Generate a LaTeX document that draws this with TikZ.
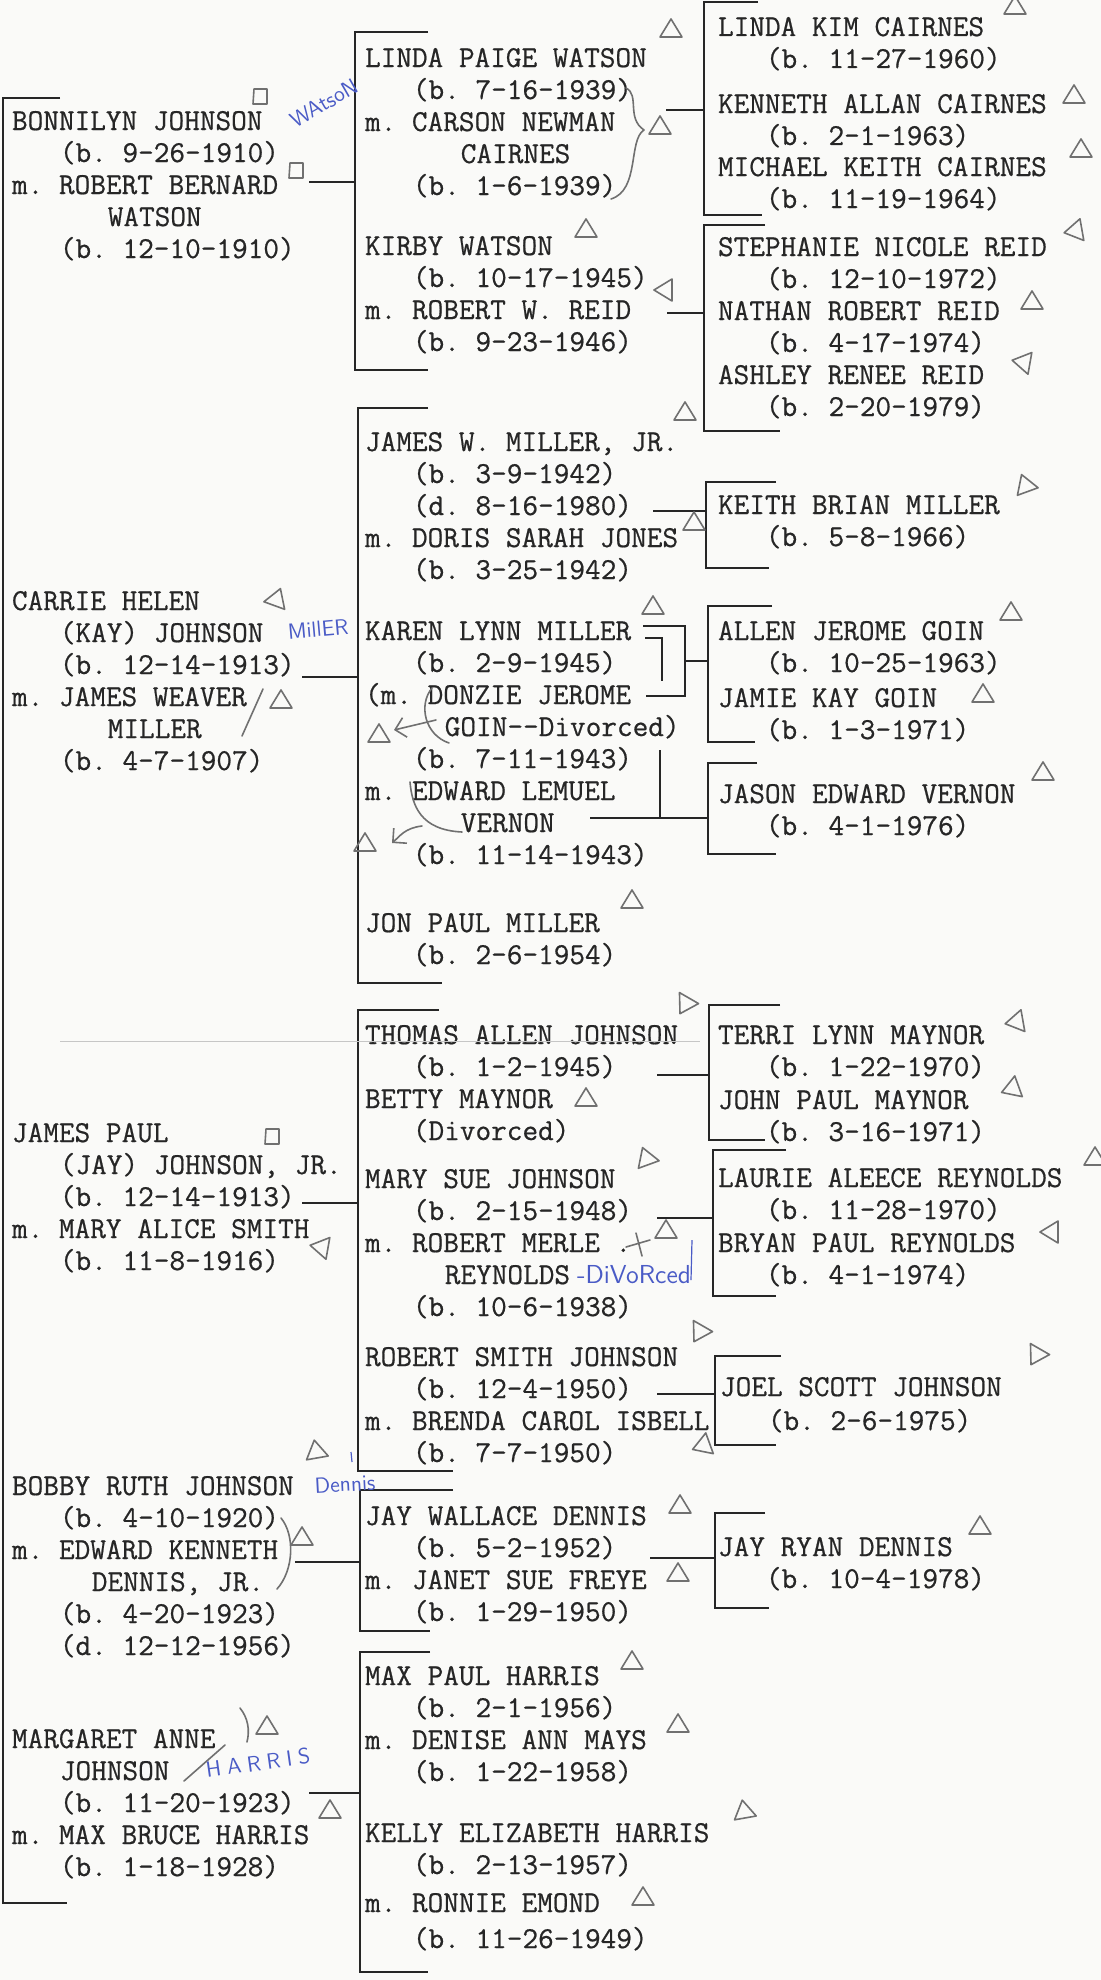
\documentclass[tikz,border=0pt]{standalone}
\usepackage{fontspec}
\usepackage{xcolor}
\usepackage{tikz}
\usetikzlibrary{arrows.meta,positioning,calc}
\newfontfamily\typefont{lmmono12-regular.otf}[FakeBold=0.6]
\definecolor{paper}{HTML}{FAFAF8}
\definecolor{typed}{HTML}{262626}
\definecolor{pencil}{HTML}{707070}
\definecolor{inkblue}{HTML}{4A5BC6}
\newcommand{\ind}[1]{\hspace*{#1\dimexpr 0.525em\relax}}
\newcommand{\sk}{\rule{0pt}{13pt}}
\newcommand{\tri}[3]{\draw[pencilmark, shift={(#1,#2)}, rotate=#3] (-11,8) -- (11,8) -- (0,-10) -- cycle;}
\newcommand{\sq}[2]{\draw[pencilmark, shift={(#1,#2)}] (-7,8) -- (-6,-7) -- (7,-7) -- (7,8) -- cycle;}

\begin{document}
\begin{tikzpicture}[x=0.5pt, y=-0.5pt, >=Stealth,
    person/.style={anchor=north west, inner sep=0pt, outer sep=0pt, align=left, text=typed,
                   font=\fontsize{15.2pt}{16pt}\typefont\frenchspacing},
    brk/.style={draw=typed, line width=1.2pt},
    link/.style={draw=typed, line width=1.2pt},
    pencilmark/.style={draw=pencil, line width=0.8pt, line join=round, line cap=round},
    handnote/.style={text=inkblue, inner sep=0pt, font=\sffamily\fontsize{11pt}{11pt}\selectfont}]
  \fill[paper] (0,0) rectangle (1101,1980);
  \useasboundingbox (0,0) rectangle (1101,1980);

  % first generation
  \node[person] (bonn) at (12,104) {\sk BONNILYN JOHNSON\\\ind{3}(b. 9-26-1910)\\m. ROBERT BERNARD\\\ind{6}WATSON\\\ind{3}(b. 12-10-1910)};
  \node[person] (carrie) at (12,584) {\sk CARRIE HELEN\\\ind{3}(KAY) JOHNSON\\\ind{3}(b. 12-14-1913)\\m. JAMES WEAVER\\\ind{6}MILLER\\\ind{3}(b. 4-7-1907)};
  \node[person] (james) at (12,1116) {\sk JAMES PAUL\\\ind{3}(JAY) JOHNSON, JR.\\\ind{3}(b. 12-14-1913)\\m. MARY ALICE SMITH\\\ind{3}(b. 11-8-1916)};
  \node[person] (bobby) at (12,1469) {\sk BOBBY RUTH JOHNSON\\\ind{3}(b. 4-10-1920)\\m. EDWARD KENNETH\\\ind{5}DENNIS, JR.\\\ind{3}(b. 4-20-1923)\\\ind{3}(d. 12-12-1956)};
  \node[person] (margaret) at (12,1722) {\sk MARGARET ANNE\\\ind{3}JOHNSON\\\ind{3}(b. 11-20-1923)\\m. MAX BRUCE HARRIS\\\ind{3}(b. 1-18-1928)};

  % second generation
  \node[person] (lindap) at (365,41) {\sk LINDA PAIGE WATSON\\\ind{3}(b. 7-16-1939)\\m. CARSON NEWMAN\\\ind{6}CAIRNES\\\ind{3}(b. 1-6-1939)};
  \node[person] (kirby) at (365,229) {\sk KIRBY WATSON\\\ind{3}(b. 10-17-1945)\\m. ROBERT W. REID\\\ind{3}(b. 9-23-1946)};
  \node[person] (jamesw) at (365,425) {\sk JAMES W. MILLER, JR.\\\ind{3}(b. 3-9-1942)\\\ind{3}(d. 8-16-1980)\\m. DORIS SARAH JONES\\\ind{3}(b. 3-25-1942)};
  \node[person] (karen) at (365,614) {\sk KAREN LYNN MILLER\\\ind{3}(b. 2-9-1945)\\(m. DONZIE JEROME\\\ind{5}GOIN-{}-Divorced)\\\ind{3}(b. 7-11-1943)\\m. EDWARD LEMUEL\\\ind{6}VERNON\\\ind{3}(b. 11-14-1943)};
  \node[person] (jon) at (365,906) {\sk JON PAUL MILLER\\\ind{3}(b. 2-6-1954)};
  \node[person] (thomas) at (365,1018) {\sk THOMAS ALLEN JOHNSON\\\ind{3}(b. 1-2-1945)\\BETTY MAYNOR\\\ind{3}(Divorced)};
  \node[person] (marysue) at (365,1162) {\sk MARY SUE JOHNSON\\\ind{3}(b. 2-15-1948)\\m. ROBERT MERLE .\\\ind{5}REYNOLDS\\\ind{3}(b. 10-6-1938)};
  \node[person] (robert) at (365,1340) {\sk ROBERT SMITH JOHNSON\\\ind{3}(b. 12-4-1950)\\m. BRENDA CAROL ISBELL\\\ind{3}(b. 7-7-1950)};
  \node[person] (jayw) at (365,1499) {\sk JAY WALLACE DENNIS\\\ind{3}(b. 5-2-1952)\\m. JANET SUE FREYE\\\ind{3}(b. 1-29-1950)};
  \node[person] (maxp) at (365,1659) {\sk MAX PAUL HARRIS\\\ind{3}(b. 2-1-1956)\\m. DENISE ANN MAYS\\\ind{3}(b. 1-22-1958)};
  \node[person] (kelly) at (365,1816) {\sk KELLY ELIZABETH HARRIS\\\ind{3}(b. 2-13-1957)};
  \node[person] (ronnie) at (365,1886) {\sk m. RONNIE EMOND\\[2pt]\ind{3}(b. 11-26-1949)};

  % third generation
  \node[person] (lkim) at (718,10) {\sk LINDA KIM CAIRNES\\\ind{3}(b. 11-27-1960)};
  \node[person] (kenneth) at (718,87) {\sk KENNETH ALLAN CAIRNES\\\ind{3}(b. 2-1-1963)};
  \node[person] (michael) at (718,150) {\sk MICHAEL KEITH CAIRNES\\\ind{3}(b. 11-19-1964)};
  \node[person] (stephanie) at (718,230) {\sk STEPHANIE NICOLE REID\\\ind{3}(b. 12-10-1972)};
  \node[person] (nathan) at (718,294) {\sk NATHAN ROBERT REID\\\ind{3}(b. 4-17-1974)};
  \node[person] (ashley) at (718,358) {\sk ASHLEY RENEE REID\\\ind{3}(b. 2-20-1979)};
  \node[person] (keith) at (718,488) {\sk KEITH BRIAN MILLER\\\ind{3}(b. 5-8-1966)};
  \node[person] (allen) at (718,614) {\sk ALLEN JEROME GOIN\\\ind{3}(b. 10-25-1963)};
  \node[person] (jamie) at (718,681) {\sk JAMIE KAY GOIN\\\ind{3}(b. 1-3-1971)};
  \node[person] (jason) at (718,777) {\sk JASON EDWARD VERNON\\\ind{3}(b. 4-1-1976)};
  \node[person] (terri) at (718,1018) {\sk TERRI LYNN MAYNOR\\\ind{3}(b. 1-22-1970)};
  \node[person] (johnp) at (718,1083) {\sk JOHN PAUL MAYNOR\\\ind{3}(b. 3-16-1971)};
  \node[person] (laurie) at (718,1161) {\sk LAURIE ALEECE REYNOLDS\\\ind{3}(b. 11-28-1970)};
  \node[person] (bryan) at (718,1226) {\sk BRYAN PAUL REYNOLDS\\\ind{3}(b. 4-1-1974)};
  \node[person] (joel) at (720,1370) {\sk JOEL SCOTT JOHNSON\\[1pt]\ind{3}(b. 2-6-1975)};
  \node[person] (jayr) at (718,1530) {\sk JAY RYAN DENNIS\\\ind{3}(b. 10-4-1978)};

  % brackets
  \coordinate (gen1-t) at (3,98);     \coordinate (gen1-b) at (3,1903);
  \coordinate (wat-t) at (355,32);    \coordinate (wat-b) at (355,370);
  \coordinate (mil-t) at (358,408);   \coordinate (mil-b) at (358,983);
  \coordinate (joh-t) at (358,1010);  \coordinate (joh-b) at (358,1471);
  \coordinate (den-t) at (360,1490);  \coordinate (den-b) at (360,1631);
  \coordinate (har-t) at (360,1652);  \coordinate (har-b) at (360,1972);
  \coordinate (cai-t) at (704,2);     \coordinate (cai-b) at (704,215);
  \coordinate (rei-t) at (704,225);   \coordinate (rei-b) at (704,431);
  \coordinate (kei-t) at (706,482);   \coordinate (kei-b) at (706,568);
  \coordinate (goi-t) at (708,606);   \coordinate (goi-b) at (708,742);
  \coordinate (ver-t) at (708,763);   \coordinate (ver-b) at (708,854);
  \coordinate (may-t) at (709,1005);  \coordinate (may-b) at (709,1140);
  \coordinate (rey-t) at (713,1150);  \coordinate (rey-b) at (713,1296);
  \coordinate (jsj-t) at (715,1356);  \coordinate (jsj-b) at (715,1445);
  \coordinate (jrd-t) at (715,1513);  \coordinate (jrd-b) at (715,1608);
  \draw[brk] (gen1-t) ++(57,0) -- (gen1-t) -- (gen1-b) -- ++(64,0);
  \draw[brk] (wat-t) ++(73,0) -- (wat-t) -- (wat-b) -- ++(73,0);
  \draw[brk] (mil-t) ++(70,0) -- (mil-t) -- (mil-b) -- ++(84,0);
  \draw[brk] (joh-t) ++(81,0) -- (joh-t) -- (joh-b) -- ++(95,0);
  \draw[brk] (den-t) ++(93,0) -- (den-t) -- (den-b) -- ++(70,0);
  \draw[brk] (har-t) ++(70,0) -- (har-t) -- (har-b) -- ++(68,0);
  \draw[brk] (cai-t) ++(54,0) -- (cai-t) -- (cai-b) -- ++(58,0);
  \draw[brk] (rei-t) ++(61,0) -- (rei-t) -- (rei-b) -- ++(76,0);
  \draw[brk] (kei-t) ++(70,0) -- (kei-t) -- (kei-b) -- ++(63,0);
  \draw[brk] (goi-t) ++(64,0) -- (goi-t) -- (goi-b) -- ++(47,0);
  \draw[brk] (ver-t) ++(49,0) -- (ver-t) -- (ver-b) -- ++(68,0);
  \draw[brk] (may-t) ++(71,0) -- (may-t) -- (may-b) -- ++(56,0);
  \draw[brk] (rey-t) ++(73,0) -- (rey-t) -- (rey-b) -- ++(63,0);
  \draw[brk] (jsj-t) ++(66,0) -- (jsj-t) -- (jsj-b) -- ++(61,0);
  \draw[brk] (jrd-t) ++(50,0) -- (jrd-t) -- (jrd-b) -- ++(54,0);

  % connectors
  \coordinate (bonn-o) at (309,182);
  \coordinate (carrie-o) at (302,677);
  \coordinate (james-o) at (302,1203);
  \coordinate (bobby-o) at (295,1562);
  \coordinate (marg-o) at (309,1793);
  \draw[link] (bonn-o) -- (bonn-o -| wat-t);
  \draw[link] (carrie-o) -- (carrie-o -| mil-t);
  \draw[link] (james-o) -- (james-o -| joh-t);
  \draw[link] (bobby-o) -- (bobby-o -| den-t);
  \draw[link] (marg-o) -- (marg-o -| har-t);
  \coordinate (lindap-o) at (666,110);
  \coordinate (kirby-o) at (667,313);
  \coordinate (jamesw-o) at (653,511);
  \coordinate (karen-o) at (643,626);
  \coordinate (karen-i) at (645,638);
  \coordinate (donzie-o) at (646,696);
  \coordinate (goin-j) at (685,661);
  \coordinate (vernon-o) at (590,818);
  \coordinate (vernon-j) at (660,750);
  \coordinate (thomas-o) at (657,1075);
  \coordinate (marysue-o) at (657,1218);
  \coordinate (robert-o) at (657,1394);
  \coordinate (jayw-o) at (650,1558);
  \draw[link] (lindap-o) -- (lindap-o -| cai-t);
  \draw[link] (kirby-o) -- (kirby-o -| rei-t);
  \draw[link] (jamesw-o) -- (jamesw-o -| kei-t);
  \draw[link] (karen-o) -| (goin-j) |- (donzie-o);
  \draw[link] (karen-i) -| (662,681);
  \draw[link] (goin-j) -- (goin-j -| goi-t);
  \draw[link] (vernon-o) -- (vernon-o -| ver-t);
  \draw[link] (vernon-j) -- (vernon-j |- vernon-o);
  \draw[link] (thomas-o) -- (thomas-o -| may-t);
  \draw[link] (marysue-o) -- (marysue-o -| rey-t);
  \draw[link] (robert-o) -- (robert-o -| jsj-t);
  \draw[link] (jayw-o) -- (jayw-o -| jrd-t);
  \draw[gray!45, line width=0.4pt] (60,1041) -- (700,1041);

  % pencil marks
  \sq{260}{96} \sq{296}{170} \sq{272}{1136}
  \tri{671}{29}{0} \tri{1015}{6}{0} \tri{1074}{95}{0} \tri{1081}{149}{0}
  \tri{660}{126}{0} \tri{586}{229}{0} \tri{664}{290}{90} \tri{1074}{231}{100}
  \tri{1032}{301}{0} \tri{1022}{362}{80} \tri{685}{412}{0} \tri{694}{522}{0}
  \tri{1025}{484}{20} \tri{653}{606}{0} \tri{1011}{612}{0} \tri{277}{598}{-20}
  \tri{281}{700}{0} \tri{379}{734}{0} \tri{365}{843}{0} \tri{983}{694}{0}
  \tri{1043}{772}{0} \tri{632}{900}{0} \tri{685}{1005}{150} \tri{586}{1098}{0}
  \tri{646}{1157}{20} \tri{666}{1230}{0} \tri{1015}{1022}{100} \tri{1011}{1089}{110}
  \tri{1095}{1157}{0} \tri{1050}{1232}{90} \tri{320}{1247}{80} \tri{699}{1333}{150}
  \tri{702}{1446}{110} \tri{680}{1505}{0} \tri{678}{1573}{0} \tri{632}{1661}{0}
  \tri{678}{1724}{0} \tri{744}{1810}{10} \tri{643}{1897}{0} \tri{1036}{1356}{150}
  \tri{980}{1526}{0} \tri{316}{1450}{10} \tri{302}{1537}{0} \tri{267}{1726}{0}
  \tri{330}{1810}{0}
  \draw[pencilmark] (626,88) .. controls (640,95) and (626,118) .. (644,130)
                    .. controls (628,140) and (640,190) .. (611,199);
  \draw[pencilmark] (263,689) -- (242,736);
  \draw[pencilmark] (432,688) .. controls (418,705) and (425,735) .. (449,743);
  \draw[pencilmark, -{Straight Barb[length=5pt]}] (436,720) -- (394,730);
  \draw[pencilmark] (410,782) .. controls (412,805) and (420,830) .. (462,832);
  \draw[pencilmark, -{Straight Barb[length=5pt]}] (422,826) .. controls (405,828) and (400,836) .. (392,843);
  \draw[pencilmark] (626,1247) -- (650,1240) (636,1233) -- (642,1256);
  \draw[pencilmark] (281,1518) .. controls (295,1535) and (294,1570) .. (277,1589);
  \draw[pencilmark] (240,1708) .. controls (248,1718) and (250,1730) .. (247,1742);
  \draw[pencilmark] (225,1745) -- (184,1781);

  % ink notes
  \node[handnote, rotate=30] (watson-note) at (324,103) {WAtsoN};
  \node[handnote, rotate=5] (miller-note) at (318,629) {MillER};
  \node[handnote, rotate=3] (dennis-note) at (345,1484) {Dennis};
  \node[handnote, rotate=8] (harris-note) at (258,1763) {H\kern3ptA\kern3ptR\kern3ptR\kern3ptI\kern3ptS};
  \node[handnote, font=\sffamily\fontsize{13pt}{13pt}\selectfont] (divorced-note) at (634,1275) {-DiVoRced};
  \draw[inkblue, line width=0.6pt] (692,1240) -- (691,1280);
  \draw[inkblue, line width=0.6pt] (351,1452) -- (352,1462);
\end{tikzpicture}
\end{document}
